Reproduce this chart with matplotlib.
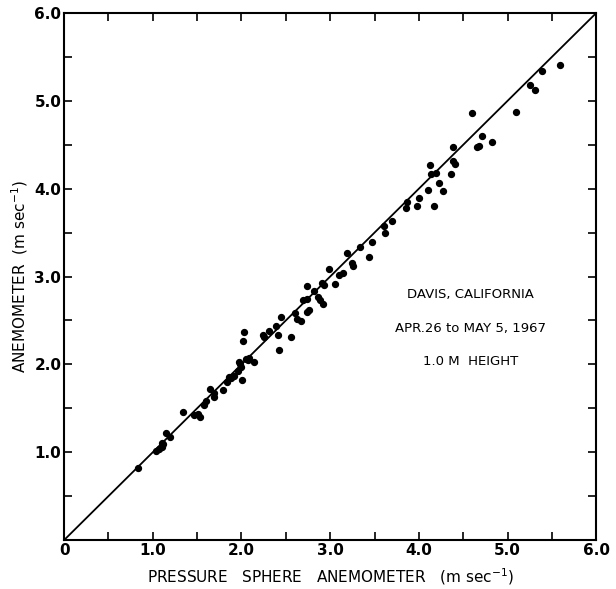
import numpy as np
import matplotlib
matplotlib.use("Agg")
import matplotlib.pyplot as plt

# pressure sphere anemometer (x) vs cup anemometer (y), m/s
sphere = [0.83, 1.04, 1.07, 1.10, 1.12, 1.15, 1.19, 1.10, 1.34, 1.47, 1.51, 1.53,
          1.58, 1.60, 1.64, 1.69, 1.69, 1.79, 1.84, 1.86, 1.88, 1.92, 1.96, 1.97,
          1.99, 2.01, 2.02, 2.03, 2.05, 2.07, 2.09, 2.14, 1.98, 2.24, 2.25, 2.31,
          2.39, 2.41, 2.45, 2.42, 2.56, 2.60, 2.63, 2.67, 2.69, 2.74, 2.74, 2.74,
          2.76, 2.82, 2.86, 2.89, 2.92, 2.93, 2.91, 2.99, 3.05, 3.10, 3.15, 3.25,
          3.26, 3.19, 3.34, 3.44, 3.47, 3.61, 3.62, 3.70, 3.85, 3.87, 3.98, 4.00,
          4.10, 4.17, 4.12, 4.14, 4.19, 4.23, 4.27, 4.36, 4.38, 4.41, 4.38, 4.60,
          4.66, 4.68, 4.71, 4.82, 5.10, 5.25, 5.31, 5.39, 5.59]
cup = [0.82, 1.01, 1.04, 1.06, 1.09, 1.22, 1.17, 1.11, 1.46, 1.42, 1.44, 1.40,
       1.54, 1.58, 1.72, 1.63, 1.67, 1.71, 1.80, 1.86, 1.85, 1.87, 1.92, 2.03,
       1.97, 1.82, 2.27, 2.37, 2.06, 2.05, 2.07, 2.03, 2.00, 2.33, 2.31, 2.38,
       2.44, 2.33, 2.54, 2.16, 2.31, 2.58, 2.52, 2.49, 2.73, 2.75, 2.89, 2.60,
       2.62, 2.83, 2.77, 2.73, 2.69, 2.90, 2.93, 3.09, 2.92, 3.02, 3.04, 3.15,
       3.12, 3.27, 3.34, 3.22, 3.39, 3.58, 3.50, 3.63, 3.78, 3.85, 3.80, 3.89,
       3.99, 3.80, 4.27, 4.17, 4.18, 4.06, 3.97, 4.17, 4.31, 4.28, 4.47, 4.86,
       4.48, 4.49, 4.60, 4.53, 4.87, 5.18, 5.12, 5.34, 5.41]

tick_pos = np.arange(0, 6.01, 0.5)
tick_lab = ["0", "", "1.0", "", "2.0", "", "3.0", "", "4.0", "", "5.0", "", "6.0"]
ytick_lab = [""] + tick_lab[1:]

fig = plt.figure(figsize=(6.16, 5.89), dpi=100)
ax = fig.add_axes([0.104, 0.083, 0.864, 0.895])

ax.plot([0, 6], [0, 6], color="black", linewidth=1.3)
ax.scatter(sphere, cup, s=18, color="black", zorder=3)

ax.set_xlim(0, 6)
ax.set_ylim(0, 6)
ax.set_xticks(tick_pos)
ax.set_xticklabels(tick_lab, fontsize=11, fontweight="bold")
ax.set_yticks(tick_pos)
ax.set_yticklabels(ytick_lab, fontsize=11, fontweight="bold")
ax.tick_params(direction="in", top=True, right=True, length=6, width=1.2, pad=2)
for s in ax.spines.values():
    s.set_linewidth(1.5)

ax.set_xlabel("PRESSURE   SPHERE   ANEMOMETER   (m sec$^{-1}$)",
              fontsize=11, labelpad=6)
ax.set_ylabel("ANEMOMETER  (m sec$^{-1}$)", fontsize=11, labelpad=3)

ax.text(4.58, 2.79, "DAVIS, CALIFORNIA", ha="center", va="center", fontsize=9.5)
ax.text(4.58, 2.41, "APR.26 to MAY 5, 1967", ha="center", va="center", fontsize=9.5)
ax.text(4.58, 2.03, "1.0 M  HEIGHT", ha="center", va="center", fontsize=9.5)

fig.savefig("out.png", dpi=100)
